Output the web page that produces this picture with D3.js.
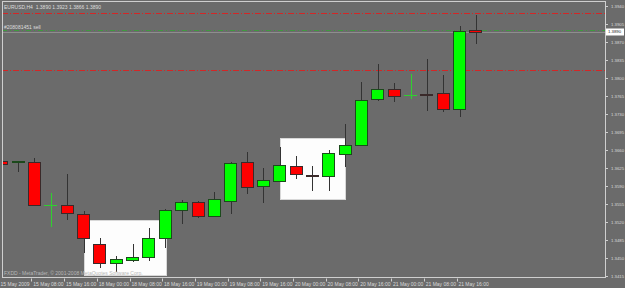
<!DOCTYPE html>
<html>
<head>
<meta charset="utf-8">
<script src="https://cdn.jsdelivr.net/npm/d3@7/dist/d3.min.js"></script>
<style>
  html, body { margin: 0; padding: 0; background: #6b6b6b; }
  svg { display: block; }
  text { font-family: "Liberation Sans", Arial, sans-serif; }
</style>
</head>
<body>
<svg id="chart"></svg>
<script>
// EURUSD H4, 15-21 May 2009
var opens  = [1.3639, 1.3636, 1.3637, 1.3553, 1.3553, 1.3536, 1.3477, 1.3440, 1.3446, 1.3452,
              1.3489, 1.3543, 1.3559, 1.3532, 1.3562, 1.3637, 1.3590, 1.3600, 1.3629, 1.3612,
              1.3609, 1.3652, 1.3670, 1.3759, 1.3779, 1.3767, 1.3769, 1.3771, 1.3740, 1.3893];
var highs  = [1.3640, 1.3639, 1.3644, 1.3576, 1.3613, 1.3541, 1.3489, 1.3454, 1.3477, 1.3508,
              1.3545, 1.3562, 1.3561, 1.3578, 1.3637, 1.3656, 1.3625, 1.3666, 1.3648, 1.3629,
              1.3660, 1.3711, 1.3792, 1.3827, 1.3790, 1.3808, 1.3837, 1.3806, 1.3901, 1.3923];
var lows   = [1.3632, 1.3617, 1.3552, 1.3510, 1.3524, 1.3460, 1.3431, 1.3423, 1.3442, 1.3444,
              1.3469, 1.3516, 1.3528, 1.3530, 1.3536, 1.3574, 1.3557, 1.3598, 1.3604, 1.3580,
              1.3580, 1.3627, 1.3668, 1.3755, 1.3753, 1.3759, 1.3736, 1.3734, 1.3724, 1.3866];
var closes = [1.3633, 1.3638, 1.3553, 1.3553, 1.3538, 1.3489, 1.3440, 1.3448, 1.3452, 1.3489,
              1.3543, 1.3559, 1.3532, 1.3565, 1.3635, 1.3588, 1.3602, 1.3631, 1.3613, 1.3611,
              1.3654, 1.3670, 1.3757, 1.3779, 1.3765, 1.3767, 1.3768, 1.3740, 1.3891, 1.3890];

// time axis: bar index of each label and its text
var labelBars = [0, 2, 4, 6, 8, 10, 12, 14, 16, 18, 20, 22, 24, 26, 28];
var timeLabels = ["15 May 2009", "15 May 08:00", "15 May 16:00", "18 May 00:00", "18 May 08:00",
                  "18 May 16:00", "19 May 00:00", "19 May 08:00", "19 May 16:00", "20 May 00:00",
                  "20 May 08:00", "20 May 16:00", "21 May 00:00", "21 May 08:00", "21 May 16:00"];

var priceTicks = [1.3940, 1.3905, 1.3870, 1.3835, 1.3800, 1.3765, 1.3730, 1.3695,
                  1.3660, 1.3625, 1.3590, 1.3555, 1.3520, 1.3485, 1.3450, 1.3415];

// chart objects
var redLevels = [1.3926, 1.3816];
var orderLevel = 1.3893;
var bidPrice = 1.3890;
var boxStart = [5, 17];
var boxEnd = [10, 21];
var boxTop = [1.3524, 1.3683];
var boxBottom = [1.3417, 1.3565];

var symbolTitle = "EURUSD,H4  1.3890 1.3923 1.3866 1.3890";
var orderLabel = "#208081451 sell";
var copyright = "FXDD - MetaTrader, \u00a9 2001-2008 MetaQuotes Software Corp.";

var width = 625, height = 288;
var plotLeft = 2, plotRight = 605, plotTop = 2, plotBottom = 278;

var svg = d3.select("#chart")
  .attr("width", width)
  .attr("height", height);

svg.append("rect")
  .attr("width", width)
  .attr("height", height)
  .attr("fill", "#6b6b6b");

var x = d3.scaleLinear()
  .domain([0, 29])
  .range([1.8, 475.95]);

var y = d3.scaleLinear()
  .domain([1.3415, 1.3940])
  .range([276, 6]);

var px = v => Math.round(v) + 0.5;

svg.append("clipPath")
  .attr("id", "plot-clip")
  .append("rect")
  .attr("x", plotLeft + 1)
  .attr("y", plotTop)
  .attr("width", plotRight - plotLeft - 1)
  .attr("height", plotBottom - plotTop);

var plot = svg.append("g").attr("clip-path", "url(#plot-clip)");

// white rectangles
plot.append("g")
  .selectAll("rect")
  .data(boxStart)
  .join("rect")
  .attr("x", (d, i) => px(x(d)))
  .attr("y", (d, i) => px(y(boxTop[i])))
  .attr("width", (d, i) => Math.round(x(boxEnd[i]) - x(d)))
  .attr("height", (d, i) => Math.round(y(boxBottom[i]) - y(boxTop[i])))
  .attr("fill", "#fdfdfd")
  .attr("stroke", "#d8d8d8");

// horizontal levels
plot.append("g")
  .selectAll("line")
  .data(redLevels)
  .join("line")
  .attr("x1", plotLeft)
  .attr("x2", plotRight)
  .attr("y1", d => px(y(d)))
  .attr("y2", d => px(y(d)))
  .attr("stroke", "#d42626")
  .attr("stroke-dasharray", "6,2,1,2");

plot.append("line")
  .attr("x1", plotLeft)
  .attr("x2", plotRight)
  .attr("y1", px(y(bidPrice)))
  .attr("y2", px(y(bidPrice)))
  .attr("stroke", "#8e8e8e");

plot.append("line")
  .attr("x1", plotLeft)
  .attr("x2", plotRight)
  .attr("y1", px(y(orderLevel)))
  .attr("y2", px(y(orderLevel)))
  .attr("stroke", "#3f9a3f")
  .attr("stroke-width", 1.2)
  .attr("stroke-dasharray", "5,3,1,3");

// candles
var bars = d3.range(opens.length);
var candles = plot.append("g")
  .selectAll("g")
  .data(bars)
  .join("g");

// open == close: MT4 draws a green cross
var isCross = i => opens[i] === closes[i];
var crossColour = "#2fd02f";

candles.append("line")
  .attr("x1", i => px(x(i)))
  .attr("x2", i => px(x(i)))
  .attr("y1", i => Math.round(y(highs[i])))
  .attr("y2", i => Math.round(y(lows[i])))
  .attr("stroke", i => isCross(i) ? crossColour : "#333");

candles.filter(i => !isCross(i))
  .append("rect")
  .attr("x", i => px(x(i) - 6.5))
  .attr("y", i => px(y(Math.max(opens[i], closes[i]))))
  .attr("width", 12)
  .attr("height", i => Math.max(0, Math.round(y(Math.min(opens[i], closes[i])) - y(Math.max(opens[i], closes[i])))))
  .attr("fill", i => closes[i] > opens[i] ? "#00ff00" : "#ff0000")
  .attr("stroke", i => closes[i] > opens[i] ? "#1c4a1c" : "#3a2a2a");

candles.filter(i => isCross(i))
  .append("line")
  .attr("x1", i => Math.round(x(i) - 6.5))
  .attr("x2", i => Math.round(x(i) + 6.5))
  .attr("y1", i => px(y(closes[i])))
  .attr("y2", i => px(y(closes[i])))
  .attr("stroke", crossColour);

// texts on the chart
svg.append("text")
  .attr("x", 4)
  .attr("y", 9)
  .attr("font-size", 5)
  .attr("fill", "#dedede")
  .style("white-space", "pre")
  .text(symbolTitle);

svg.append("text")
  .attr("x", 4)
  .attr("y", 28.5)
  .attr("font-size", 5)
  .attr("fill", "#dedede")
  .text(orderLabel);

svg.append("text")
  .attr("x", 4)
  .attr("y", 274.5)
  .attr("font-size", 5)
  .attr("fill", "#b8b8b8")
  .text(copyright);

// frame
svg.append("rect")
  .attr("x", plotLeft + 0.5)
  .attr("y", plotTop - 0.5)
  .attr("width", plotRight - plotLeft)
  .attr("height", plotBottom - plotTop)
  .attr("fill", "none")
  .attr("stroke", "#cfcfcf");

// price axis
var priceAxis = svg.append("g")
  .attr("transform", "translate(" + (plotRight + 0.5) + ",0)")
  .call(d3.axisRight(y).tickValues(priceTicks).tickFormat(d3.format(".4f")).tickSize(2.5).tickPadding(3));
priceAxis.select(".domain").remove();
priceAxis.selectAll("line").attr("stroke", "#cfcfcf");
priceAxis.selectAll("text")
  .attr("fill", "#dadada")
  .attr("font-size", 4.3)
  .attr("font-family", "Liberation Sans, Arial, sans-serif");

// bid price marker
var bidY = y(bidPrice);
svg.append("rect")
  .attr("x", 606)
  .attr("y", Math.round(bidY) - 3.5)
  .attr("width", 18)
  .attr("height", 7)
  .attr("fill", "#ffffff");
svg.append("text")
  .attr("x", 608)
  .attr("y", bidY)
  .attr("dy", "0.35em")
  .attr("font-size", 4.3)
  .attr("fill", "#222")
  .text(d3.format(".4f")(bidPrice));

// time axis
var timeAxis = svg.append("g")
  .attr("transform", "translate(0," + (plotBottom + 0.5) + ")");
timeAxis.selectAll("line")
  .data(labelBars)
  .join("line")
  .attr("x1", d => px(x(d) - 3))
  .attr("x2", d => px(x(d) - 3))
  .attr("y1", 0)
  .attr("y2", 3)
  .attr("stroke", "#cfcfcf");
timeAxis.selectAll("text")
  .data(labelBars)
  .join("text")
  .attr("x", d => x(d) - 1.2)
  .attr("y", 7)
  .attr("font-size", 5)
  .attr("fill", "#dadada")
  .text((d, i) => timeLabels[i]);
</script>
</body>
</html>
